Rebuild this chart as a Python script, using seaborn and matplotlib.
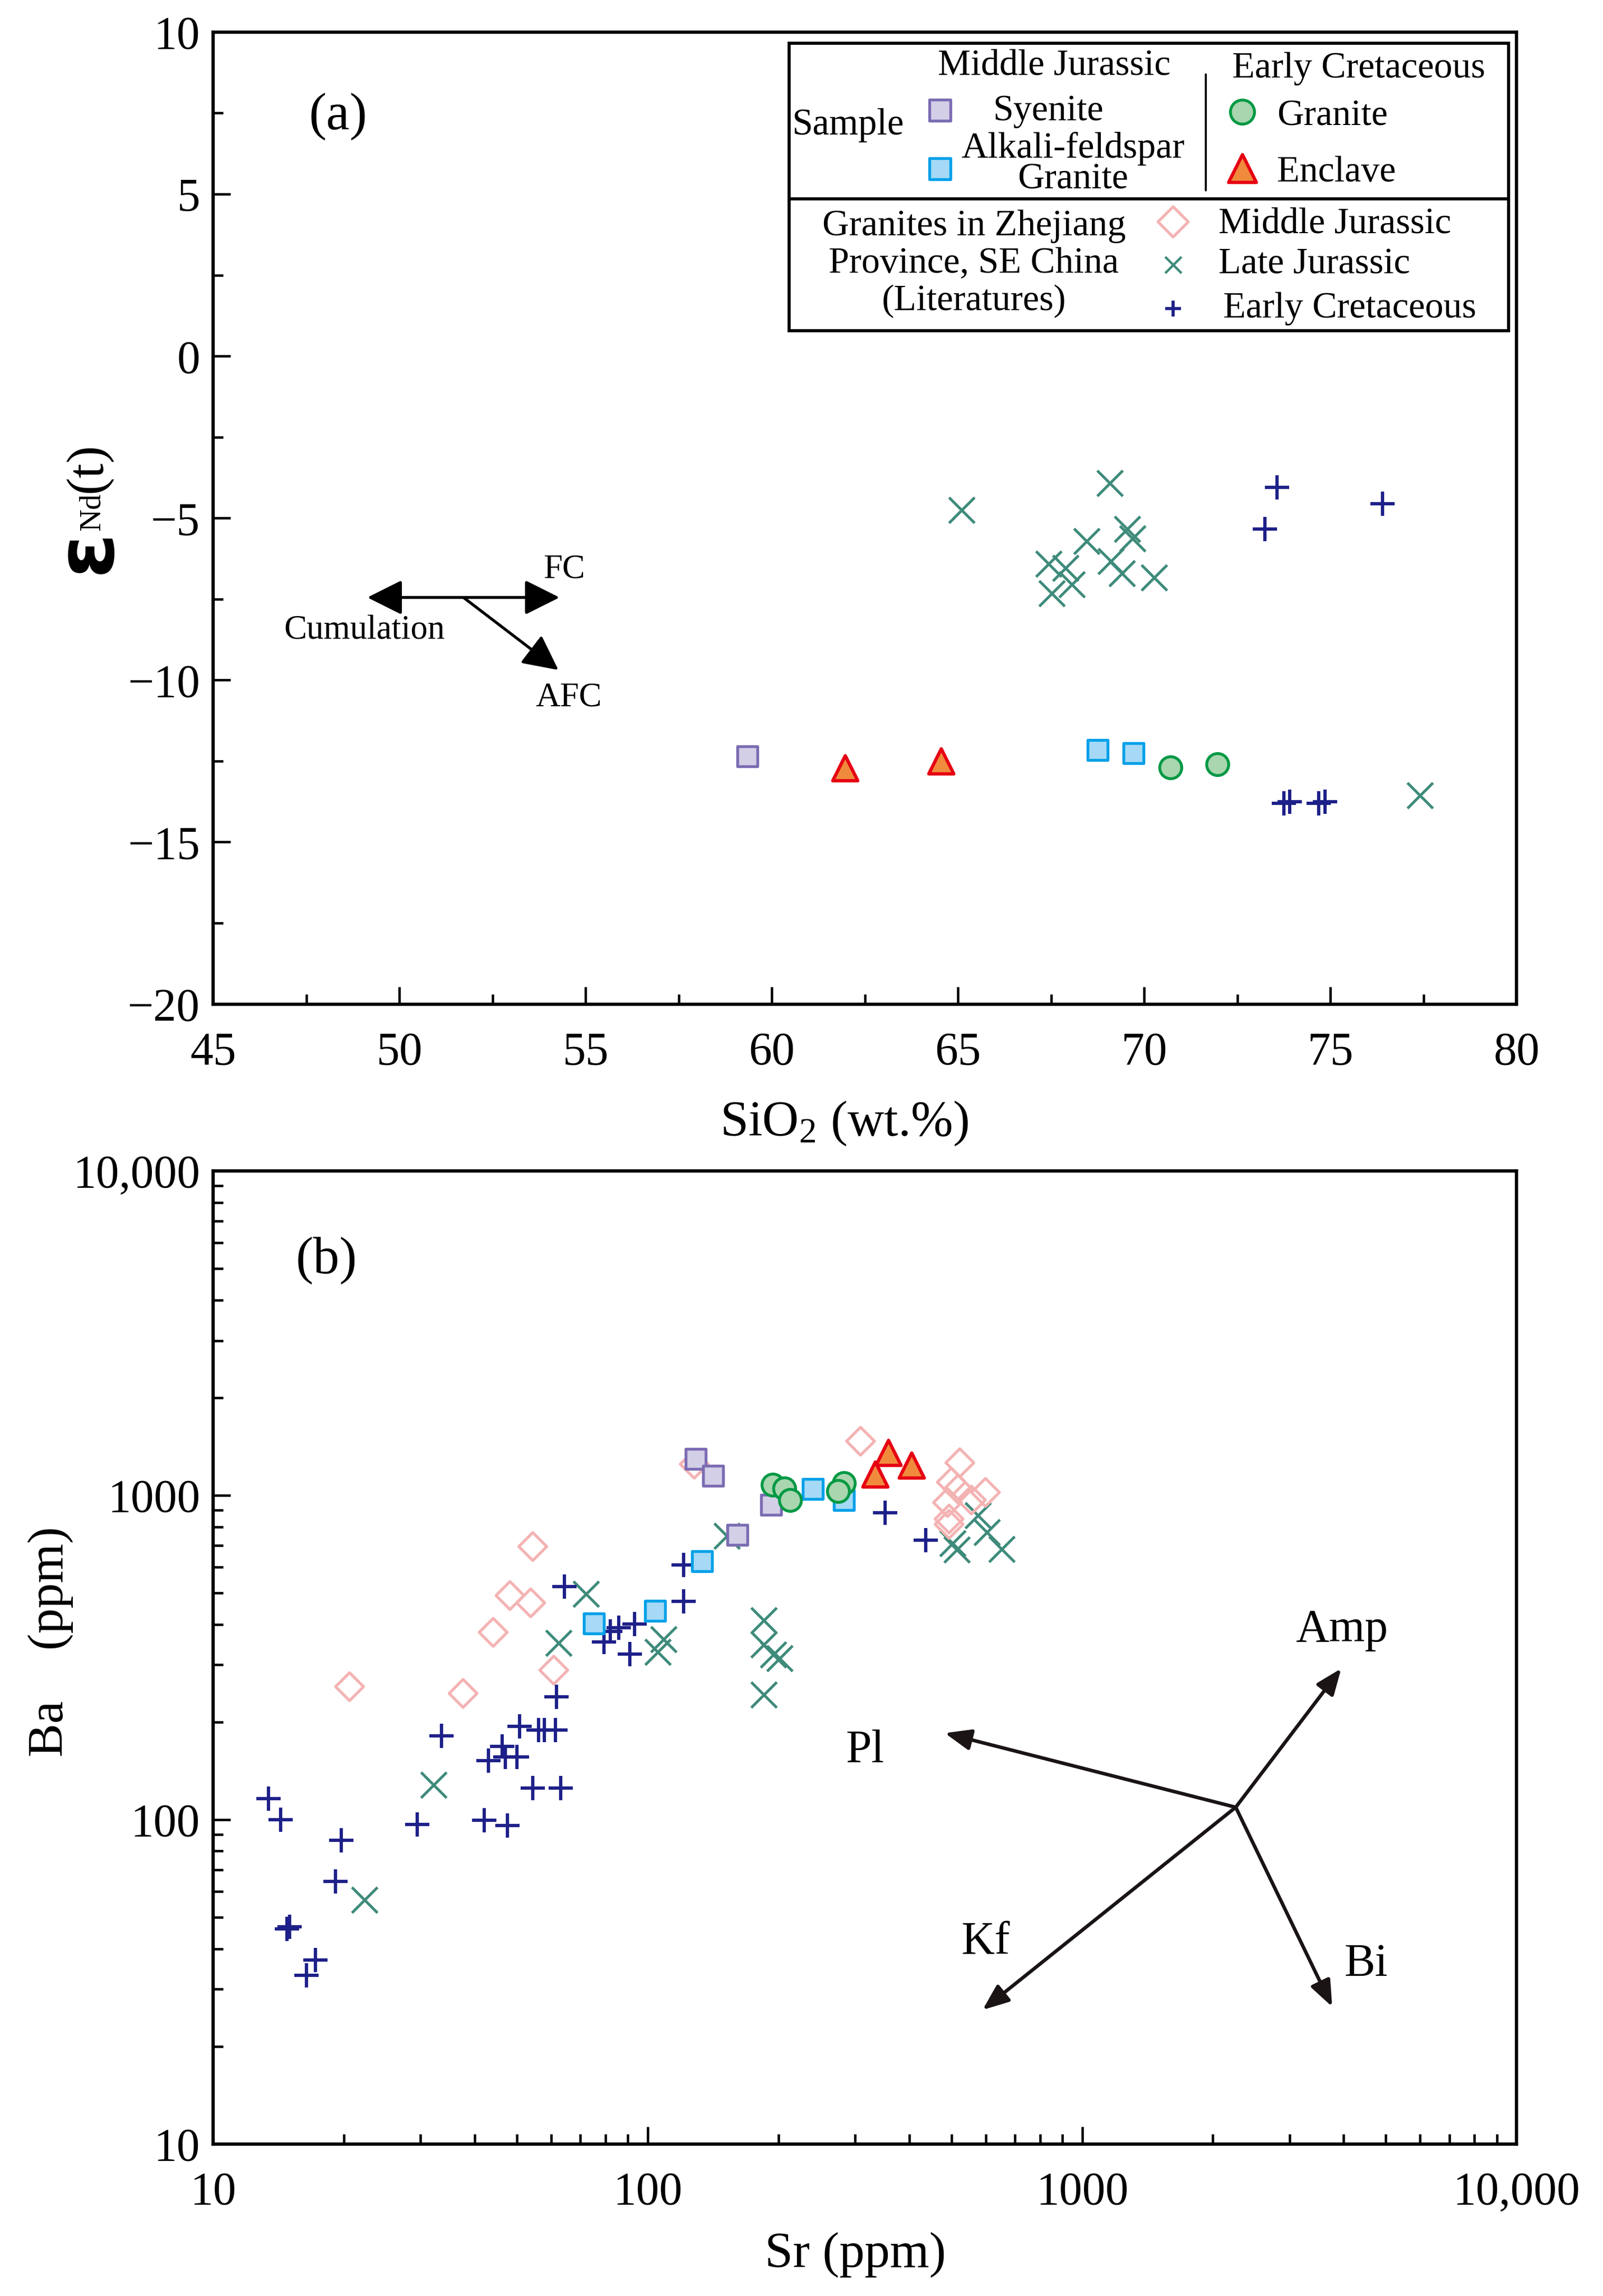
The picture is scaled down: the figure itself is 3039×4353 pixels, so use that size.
import matplotlib
matplotlib.use("Agg")
import matplotlib.pyplot as plt
import matplotlib.ticker as mticker
from matplotlib.patches import Rectangle
import seaborn as sns

sns.set_style("ticks")
plt.rcParams["font.family"] = ["Liberation Serif", "DejaVu Serif"]
plt.rcParams["mathtext.fontset"] = "custom"
plt.rcParams["mathtext.rm"] = "Liberation Serif"
plt.rcParams["mathtext.it"] = "Liberation Serif:italic"
plt.rcParams["mathtext.bf"] = "Liberation Serif:bold"
for k in ["axes.edgecolor", "text.color", "xtick.color", "ytick.color", "axes.labelcolor"]:
    plt.rcParams[k] = "black"

# colours
SYE_FACE, SYE_EDGE = "#d3cfe7", "#7b6cb3"
AFG_FACE, AFG_EDGE = "#a6d9f5", "#00a0e9"
GRA_FACE, GRA_EDGE = "#a9d6ae", "#009944"
ENC_FACE, ENC_EDGE = "#f08a3c", "#e60012"
MJ_COL = "#f4b3b3"
LJ_COL = "#3f8b7b"
EC_COL = "#1d2088"

# ---- (a) SiO2 vs eNd(t) ----
a_sye_sio2 = [59.35]
a_sye_end = [-12.35]
a_afg_sio2 = [68.75, 69.72]
a_afg_end = [-12.16, -12.25]
a_gra_sio2 = [70.70, 71.97]
a_gra_end = [-12.70, -12.60]
a_enc_sio2 = [61.97, 64.55]
a_enc_end = [-12.72, -12.50]
a_lj_sio2 = [65.10, 69.07, 69.54, 69.69, 68.46, 67.44, 67.88, 69.11, 69.40, 70.27, 68.05, 67.52, 77.40]
a_lj_end = [-4.75, -3.92, -5.33, -5.63, -5.71, -6.41, -6.54, -6.33, -6.70, -6.83, -7.04, -7.33, -13.56]
a_ec_sio2 = [73.56, 76.40, 73.24, 73.75, 73.90, 74.69, 74.86]
a_ec_end = [-4.05, -4.55, -5.33, -13.80, -13.75, -13.80, -13.75]

# trend arrows in (a)
fc_start = (51.72, -7.45)
fc_end = (54.30, -7.45)
cum_end = (49.14, -7.45)
afc_end = (54.27, -9.69)

# ---- (b) Sr vs Ba ----
b_sye_sr = [129, 141.6, 192.5, 161]
b_sye_ba = [1293, 1150, 933, 754]
b_afg_sr = [75.3, 104, 133.3, 240, 283]
b_afg_ba = [403, 441, 626, 1046, 967]
b_gra_sr = [193.9, 206.6, 213, 283.4, 274.7]
b_gra_ba = [1079, 1050, 967, 1088, 1031]
b_enc_sr = [357.8, 334, 405]
b_enc_ba = [1353, 1160, 1236]
b_mj_sr = [54.4, 48.2, 53.8, 44.1, 60.8, 20.6, 37.6, 128, 309, 523, 500, 518, 599, 556, 490, 494, 494]
b_mj_ba = [695, 491, 466, 378, 289, 257, 245, 1247, 1468, 1260, 1098, 1045, 1021, 967, 950, 845, 814]
b_lj_sr = [72.1, 62.3, 32.2, 22.3, 152, 108.8, 105.6, 185.3, 185.3, 194.4, 201, 185.3, 576, 604, 653, 515, 503]
b_lj_ba = [497, 350, 128, 56.5, 750, 360, 328.6, 412, 347, 323, 314, 242.7, 866, 769, 683, 679, 710]
b_ec_sr = [13.4, 14.3, 19.7, 19.1, 14.8, 15.0, 17.2, 16.4, 29.5, 42.1, 47.6, 54.4, 63.0, 33.5, 46.2, 43.0,
           47.0, 50.0, 50.7, 56.1, 57.8, 61.3, 61.7, 64.4, 79.3, 82.0, 85.8, 90.9, 93.4, 120.9, 120.9, 352, 436]
b_ec_ba = [116, 100, 86.3, 64.6, 46.0, 46.8, 36.9, 33.1, 96.6, 99.6, 96.0, 125, 125, 181, 168, 152,
           156, 156, 194, 189, 189, 189, 239, 524, 353, 380, 390, 324, 401, 471, 609, 884, 726]

# mineral vectors in (b)
vec_origin = (2257, 109.2)
vec_names = ["Pl", "Amp", "Kf", "Bi"]
vec_tips = [(483, 184.9), (3948, 292.4), (590, 25.9), (3763, 26.5)]
vec_label_pos = [(316.6, 163), (3963, 384), (600, 41.9), (4503, 35.7)]

b_xticks = [10, 100, 1000, 10000]
b_xticklabels = ["10", "100", "1000", "10,000"]
b_yticks = [10, 100, 1000, 10000]
b_yticklabels = ["10", "100", "1000", "10,000"]


def pts(ax, x, y, marker, s, face, edge, lw, z):
    if marker in ("+", "x"):
        sns.scatterplot(x=x, y=y, marker=marker, s=s, color=edge, linewidth=lw,
                        ax=ax, zorder=z, legend=False)
    else:
        sns.scatterplot(x=x, y=y, marker=marker, s=s, color=edge, facecolor=face,
                        edgecolor=edge, linewidth=lw, ax=ax, zorder=z, legend=False)


fig = plt.figure(figsize=(10.13, 14.51), dpi=300)
ax1 = fig.add_axes([0.1330, 0.5627, 0.8131, 0.4233])
ax2 = fig.add_axes([0.1330, 0.0662, 0.8131, 0.4238])

# panel (a)
pts(ax1, a_lj_sio2, a_lj_end, "x", 135, None, LJ_COL, 1.25, 3)
pts(ax1, a_ec_sio2, a_ec_end, "+", 120, None, EC_COL, 1.5, 3)
pts(ax1, a_sye_sio2, a_sye_end, "s", 85, SYE_FACE, SYE_EDGE, 1.3, 4)
pts(ax1, a_afg_sio2, a_afg_end, "s", 85, AFG_FACE, AFG_EDGE, 1.3, 4)
pts(ax1, a_gra_sio2, a_gra_end, "o", 100, GRA_FACE, GRA_EDGE, 1.3, 5)
pts(ax1, a_enc_sio2, a_enc_end, "^", 130, ENC_FACE, ENC_EDGE, 1.5, 6)

big_head = dict(mutation_scale=34, lw=1.3, color="black", shrinkA=0, shrinkB=0)
ax1.annotate("", xy=cum_end, xytext=fc_end,
             arrowprops=dict(arrowstyle="<|-|>,head_length=0.4,head_width=0.2", **big_head))
ax1.annotate("", xy=afc_end, xytext=fc_start,
             arrowprops=dict(arrowstyle="-|>,head_length=0.4,head_width=0.2", **big_head))
ax1.text(54.43, -6.58, "FC", fontsize=15.5, ha="center", va="center")
ax1.text(49.06, -8.48, "Cumulation", fontsize=15.5, ha="center", va="center")
ax1.text(54.54, -10.54, "AFC", fontsize=15.5, ha="center", va="center")
ax1.text(48.36, 7.39, "(a)", fontsize=24, ha="center", va="center")

ax1.set_xlim(45, 80)
ax1.set_ylim(-20, 10)
ax1.xaxis.set_major_locator(mticker.MultipleLocator(5))
ax1.xaxis.set_minor_locator(mticker.MultipleLocator(2.5))
ax1.yaxis.set_major_locator(mticker.MultipleLocator(5))
ax1.yaxis.set_minor_locator(mticker.MultipleLocator(2.5))
ax1.set_xlabel(r"SiO$_2$ (wt.%)", fontsize=23, va="center")
ax1.xaxis.set_label_coords(0.484, -0.1229)
ax1.set_ylabel("")

# y label of (a): bold epsilon + Nd subscript + (t)
T = ax1.transAxes
ax1.text(-0.0967, 0.466, "ε", transform=T, rotation=90, fontsize=37, fontweight="bold",
         family="DejaVu Sans", ha="center", va="center")
ax1.text(-0.0930, 0.5067, "Nd", transform=T, rotation=90, fontsize=14, ha="center", va="center")
ax1.text(-0.0960, 0.5518, "(t)", transform=T, rotation=90, fontsize=24, ha="center", va="center")

# legend box of (a)
L, R, TOP, BOT, MID = 0.4419, 0.9937, 0.9885, 0.6928, 0.8283
ax1.add_patch(Rectangle((L, BOT), R - L, TOP - BOT, transform=T, fill=True, fc="white",
                        ec="black", lw=1.4, zorder=7))
ax1.plot([L, R], [MID, MID], transform=T, color="black", lw=1.4, zorder=8)
ax1.plot([0.7616, 0.7616], [0.8369, 0.9566], transform=T, color="black", lw=0.9, zorder=8)
lf = 16.8
kw = dict(transform=T, fontsize=lf, zorder=9)
ax1.text(0.6451, 0.9654, "Middle Jurassic", ha="center", va="center", **kw)
ax1.text(0.8790, 0.9624, "Early Cretaceous", ha="center", va="center", **kw)
ax1.text(0.4868, 0.9042, "Sample", ha="center", va="center", fontsize=17, transform=T, zorder=9)
ax1.text(0.6406, 0.9182, "Syenite", ha="center", va="center", **kw)
ax1.text(0.6595, 0.8801, "Alkali-feldspar", ha="center", va="center", **kw)
ax1.text(0.6595, 0.8480, "Granite", ha="center", va="center", **kw)
ax1.text(0.8588, 0.9132, "Granite", ha="center", va="center", **kw)
ax1.text(0.8619, 0.8557, "Enclave", ha="center", va="center", **kw)
ax1.text(0.5836, 0.7615, "Granites in Zhejiang\nProvince, SE China\n(Literatures)",
         ha="center", va="center", linespacing=1.15, **kw)
ax1.text(0.7713, 0.8028, "Middle Jurassic", ha="left", va="center", **kw)
ax1.text(0.7713, 0.7607, "Late Jurassic", ha="left", va="center", **kw)
ax1.text(0.7750, 0.7156, "Early Cretaceous", ha="left", va="center", **kw)

lk = dict(transform=T, zorder=9, clip_on=False)
ax1.scatter([0.5576], [0.9197], marker="s", s=95, fc=SYE_FACE, ec=SYE_EDGE, lw=1.3, **lk)
ax1.scatter([0.5576], [0.8594], marker="s", s=95, fc=AFG_FACE, ec=AFG_EDGE, lw=1.3, **lk)
ax1.scatter([0.7896], [0.9182], marker="o", s=120, fc=GRA_FACE, ec=GRA_EDGE, lw=1.3, **lk)
ax1.scatter([0.7896], [0.8600], marker="^", s=160, fc=ENC_FACE, ec=ENC_EDGE, lw=1.5, **lk)
ax1.scatter([0.7365], [0.8048], marker="D", s=95, fc="none", ec=MJ_COL, lw=1.3, **lk)
ax1.scatter([0.7365], [0.7607], marker="x", s=55, c=LJ_COL, lw=1.1, **lk)
ax1.scatter([0.7365], [0.7158], marker="+", s=55, c=EC_COL, lw=1.4, **lk)

# panel (b)
pts(ax2, b_lj_sr, b_lj_ba, "x", 135, None, LJ_COL, 1.25, 3)
pts(ax2, b_ec_sr, b_ec_ba, "+", 120, None, EC_COL, 1.5, 3)
pts(ax2, b_mj_sr, b_mj_ba, "D", 81, "none", MJ_COL, 1.3, 3)
pts(ax2, b_sye_sr, b_sye_ba, "s", 85, SYE_FACE, SYE_EDGE, 1.3, 4)
pts(ax2, b_afg_sr, b_afg_ba, "s", 85, AFG_FACE, AFG_EDGE, 1.3, 4)
pts(ax2, b_gra_sr, b_gra_ba, "o", 100, GRA_FACE, GRA_EDGE, 1.3, 5)
pts(ax2, b_enc_sr, b_enc_ba, "^", 130, ENC_FACE, ENC_EDGE, 1.5, 6)

for name, tip, lab in zip(vec_names, vec_tips, vec_label_pos):
    ax2.annotate("", xy=tip, xytext=vec_origin,
                 arrowprops=dict(arrowstyle="-|>,head_length=0.5,head_width=0.2",
                                 mutation_scale=20, lw=1.6, color="#1a1414",
                                 shrinkA=0, shrinkB=0))
    ax2.text(lab[0], lab[1], name, fontsize=21, ha="center", va="center")
ax2.text(18.2, 5300, "(b)", fontsize=24, ha="center", va="center")

ax2.set_xscale("log")
ax2.set_yscale("log")
ax2.set_xlim(10, 10000)
ax2.set_ylim(10, 10000)
ax2.xaxis.set_major_locator(mticker.FixedLocator(b_xticks))
ax2.xaxis.set_major_formatter(mticker.FixedFormatter(b_xticklabels))
ax2.yaxis.set_major_locator(mticker.FixedLocator(b_yticks))
ax2.yaxis.set_major_formatter(mticker.FixedFormatter(b_yticklabels))
for axis in (ax2.xaxis, ax2.yaxis):
    axis.set_minor_locator(mticker.LogLocator(base=10, subs=range(2, 10), numticks=20))
    axis.set_minor_formatter(mticker.NullFormatter())
ax2.set_xlabel("Sr (ppm)", fontsize=23, va="center")
ax2.xaxis.set_label_coords(0.4927, -0.1138)
ax2.set_ylabel("Ba    (ppm)", fontsize=23, va="center")
ax2.yaxis.set_label_coords(-0.1247, 0.516)

for ax in (ax1, ax2):
    ax.tick_params(which="both", direction="in", top=False, right=False, width=1.1,
                   labelsize=21)
    ax.tick_params(which="major", length=8)
    ax.tick_params(which="minor", length=4.5)
    ax.tick_params(axis="x", pad=12.5)
    ax.tick_params(axis="y", pad=6)
    for sp in ax.spines.values():
        sp.set_linewidth(1.5)
        sp.set_color("black")

fig.savefig("out.png", dpi=300)
